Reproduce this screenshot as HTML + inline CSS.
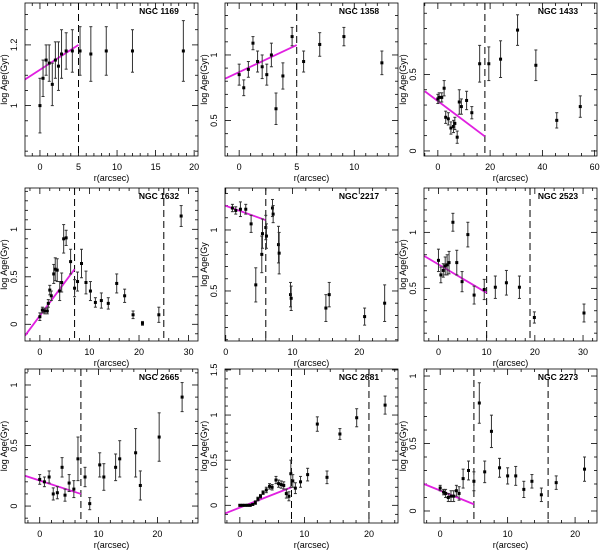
<!DOCTYPE html>
<html><head><meta charset="utf-8"><style>
body{margin:0;background:#fff;}
svg text{font-family:"Liberation Sans",sans-serif;fill:#000;}
</style></head><body>
<svg id="fig" width="600" height="550" viewBox="0 0 600 550" xmlns="http://www.w3.org/2000/svg"></svg>
<script>
// ---- data per panel ----
const names = ["NGC 1169","NGC 1358","NGC 1433","NGC 1632","NGC 2217","NGC 2523","NGC 2665","NGC 2681","NGC 2273"];
const r1169 = [0,0.4,0.8,1.2,1.6,2.0,2.4,2.8,3.4,4.2,5.2,6.6,8.6,12,18.6];
const a1169 = [1.0,1.09,1.15,1.14,1.07,1.15,1.13,1.17,1.18,1.18,1.18,1.17,1.18,1.18,1.18];
const e1169 = [0.09,0.06,0.05,0.06,0.07,0.06,0.08,0.08,0.06,0.07,0.08,0.09,0.08,0.07,0.1];
const r1358 = [0,0.4,0.8,1.2,1.6,2.0,2.4,2.8,3.2,3.8,4.6,5.6,7.0,9.1,12.4];
const a1358 = [0.85,0.75,0.89,1.09,0.95,0.91,0.85,1.0,0.59,0.84,1.14,0.95,1.08,1.14,0.94];
const e1358 = [0.08,0.06,0.06,0.05,0.08,0.09,0.08,0.09,0.12,0.1,0.07,0.08,0.09,0.07,0.09];
const r1433 = [0,0.5,1.5,2.4,3,4,5,6,6.5,7.4,8.2,9,11,13,16,19.5,24,30.5,37.5,45.5,54.5];
const a1433 = [0.34,0.35,0.35,0.41,0.22,0.21,0.15,0.16,0.18,0.09,0.32,0.29,0.33,0.25,0.57,0.57,0.6,0.79,0.56,0.2,0.29];
const e1433 = [0.03,0.03,0.03,0.05,0.04,0.04,0.04,0.04,0.04,0.04,0.08,0.05,0.06,0.04,0.12,0.11,0.12,0.1,0.1,0.05,0.07];
const r1632 = [0,0.5,1,1.5,1.7,2,2.3,2.8,3.1,3.5,4,4.4,4.8,5.3,6.2,7,7.6,8.4,9.3,10.2,11.2,12.4,13.8,15.5,17.1,18.8,20.7,24,28.5];
const a1632 = [0.08,0.15,0.14,0.14,0.22,0.36,0.3,0.53,0.58,0.57,0.35,0.44,0.9,0.91,0.66,0.38,0.45,0.64,0.44,0.35,0.23,0.25,0.22,0.43,0.3,0.1,0.01,0.1,1.14];
const e1632 = [0.04,0.03,0.03,0.03,0.04,0.05,0.05,0.1,0.12,0.12,0.1,0.1,0.15,0.08,0.13,0.09,0.1,0.15,0.12,0.1,0.05,0.08,0.06,0.1,0.07,0.04,0.02,0.08,0.11];
const r2217 = [1,1.5,2.2,3,3.8,4.5,5.4,5.5,6,6.1,7,7.1,7.9,8,9.7,9.8,15,15.5,20.8,23.8];
const a2217 = [1.18,1.16,1.17,1.17,1.05,0.55,0.8,0.97,1.02,0.95,1.18,1.13,0.88,0.81,0.47,0.44,0.36,0.47,0.29,0.4];
const e2217 = [0.03,0.03,0.06,0.04,0.07,0.14,0.15,0.12,0.1,0.1,0.07,0.07,0.15,0.17,0.1,0.1,0.11,0.1,0.07,0.15];
const r2523 = [0,0.5,1,1.4,1.8,2.2,3,3.8,4.9,6.1,7.4,9.5,11.8,14.1,16.8,19.9,30.2];
const a2523 = [0.75,0.62,0.66,0.70,0.71,0.73,1.09,0.73,0.56,0.98,0.44,0.49,0.51,0.55,0.51,0.24,0.28];
const e2523 = [0.1,0.07,0.06,0.08,0.09,0.1,0.08,0.11,0.09,0.11,0.08,0.09,0.1,0.11,0.1,0.05,0.08];
const r2665 = [0,0.8,1.6,2.3,3,3.8,4.3,5,5.8,6.5,7.7,8.5,10.2,10.9,12.9,13.6,16.3,17.1,20.3,24.2];
const a2665 = [0.22,0.2,0.24,0.1,0.11,0.32,0.09,0.19,0.14,0.39,0.24,0.02,0.34,0.24,0.32,0.39,0.44,0.17,0.57,0.9];
const e2665 = [0.04,0.04,0.05,0.05,0.05,0.08,0.05,0.07,0.07,0.18,0.08,0.05,0.1,0.11,0.11,0.15,0.2,0.12,0.2,0.12];
const r2681 = [0,0.4,0.8,1.2,1.6,2,2.4,2.8,3.2,3.6,4.1,4.6,5,5.6,6,6.4,6.8,7.2,7.6,7.9,8.2,8.6,9.4,10.5,12,13.5,15.5,18.1,22.5];
const a2681 = [0,0,0,0,0,0.01,0.03,0.07,0.1,0.14,0.17,0.21,0.2,0.28,0.24,0.23,0.22,0.13,0.1,0.35,0.27,0.19,0.26,0.34,0.9,0.31,0.79,0.97,1.11];
const e2681 = [0.01,0.01,0.01,0.01,0.01,0.01,0.02,0.02,0.02,0.02,0.03,0.03,0.03,0.04,0.04,0.04,0.04,0.05,0.05,0.15,0.07,0.06,0.06,0.07,0.08,0.07,0.06,0.1,0.1];
const r2273 = [0,0.5,0.8,1.2,1.6,2,2.4,2.8,3.4,4.2,5,5.8,6.6,7.6,8.8,10,11.2,12.4,13.6,15,17.2,21.4];
const a2273 = [0.17,0.14,0.13,0.1,0.11,0.11,0.15,0.13,0.24,0.3,0.22,0.8,0.29,0.59,0.32,0.26,0.26,0.16,0.22,0.12,0.21,0.31];
const e2273 = [0.02,0.02,0.03,0.03,0.04,0.04,0.04,0.05,0.07,0.07,0.07,0.15,0.08,0.12,0.07,0.06,0.07,0.06,0.05,0.05,0.05,0.09];
const fits = [[-2,1.085,5,1.2],[-1.2,0.82,5,1.075],[-5,0.39,18,0.095],[-3,-0.12,7,0.58],[-0.1,1.2,6,1.08],[-3,0.79,10,0.46],[-2.5,0.25,7,0.1],[-2.3,-0.09,8,0.2],[-2.4,0.2,5,0.05]];
const dashes = [[5],[5],[18],[7,25],[6],[10,19],[7],[8,20],[5,16]];
const xTicks = [[0,5,10,15,20],[0,5,10],[0,20,40,60],[0,10,20,30],[0,10,20],[0,10,20,30],[0,10,20],[0,10,20],[0,10,20]];
const yTicks = [[1,1.2],[0.5,1],[0,0.5],[0,0.5,1],[0.5,1],[0.5,1],[0,0.5,1],[0,0.5,1,1.5],[0,0.5,1]];
const xMinor = [1,1,5,2,2,2,2,2,2];
const yMinor = [0.05,0.1,0.1,0.1,0.1,0.1,0.1,0.1,0.1];
const xDom = [[-1.94,20.5],[-1.23,13.8],[-5.3,60.9],[-3,31.9],[-0.11,25.8],[-3,32.9],[-2.5,26.9],[-2.3,24.5],[-2.4,23.25]];
const yDom = [[0.834,1.338],[0.23,1.396],[-0.033,0.967],[-0.176,1.435],[0.09,1.344],[0.03,1.396],[-0.14,1.132],[-0.196,1.51],[-0.089,1.052]];
const yTitles = ["log Age(Gyr)","log Age(Gyr)","log Age(Gyr)","log Age(Gyr)","log Age(Gy","log Age(Gyr)","log Age(Gyr)","log Age(Gyr)","log Age(Gyr)"];
const rs=[r1169,r1358,r1433,r1632,r2217,r2523,r2665,r2681,r2273];
const as=[a1169,a1358,a1433,a1632,a2217,a2523,a2665,a2681,a2273];
const es=[e1169,e1358,e1433,e1632,e2217,e2523,e2665,e2681,e2273];

const NS="http://www.w3.org/2000/svg";
const fig=document.getElementById('fig');
function mk(tag,attrs,parent){const e=document.createElementNS(NS,tag);for(const k in attrs)e.setAttribute(k,attrs[k]);parent.appendChild(e);return e;}
const lefts=[25,225,424], tops=[3,188,369], bots=[156,341,523], W=173;
for(let p=0;p<9;p++){
  const L=lefts[p%3], T=tops[Math.floor(p/3)], B=bots[Math.floor(p/3)], R=L+W;
  const g=mk('g',{},fig);
  
  
  const X=v=>L+(v-xDom[p][0])/(xDom[p][1]-xDom[p][0])*W;
  const Y=v=>B-(v-yDom[p][0])/(yDom[p][1]-yDom[p][0])*(B-T);
  const cp='cp'+p;
  const cl=mk('clipPath',{id:cp},g); mk('rect',{x:L,y:T,width:W,height:B-T},cl);
  const tk=mk('g',{stroke:'#000','stroke-width':0.8},g);
  
  
  const xs=Math.ceil(xDom[p][0]/xMinor[p]);
  for(let i=xs;i*xMinor[p]<=xDom[p][1];i++){const v=i*xMinor[p];const maj=xTicks[p].some(t=>Math.abs(t-v)<1e-6);const len=maj?6:3;const x=X(v);
    mk('line',{x1:x,x2:x,y1:B,y2:B-len},tk);mk('line',{x1:x,x2:x,y1:T,y2:T+len},tk);}
  const ys=Math.ceil(yDom[p][0]/yMinor[p]-1e-6);
  for(let i=ys;i*yMinor[p]<=yDom[p][1]+1e-9;i++){const v=i*yMinor[p];const maj=yTicks[p].some(t=>Math.abs(t-v)<1e-6);const len=maj?6:3;const y=Y(v);
    mk('line',{x1:L,x2:L+len,y1:y,y2:y},tk);mk('line',{x1:R,x2:R-len,y1:y,y2:y},tk);}
  xTicks[p].forEach(v=>{const t=mk('text',{x:X(v),y:B+14,'font-size':9,'text-anchor':'middle'},g);t.textContent=v;
    
    });
  yTicks[p].forEach(v=>{const y=Y(v);const t=mk('text',{x:L-8,y:y,'font-size':9,'text-anchor':'middle',transform:`rotate(-90 ${L-8} ${y})`},g);t.textContent=v;
    
    });
  const xt=mk('text',{x:L+W/2,y:B+25,'font-size':9,'text-anchor':'middle'},g);xt.textContent='r(arcsec)';
  
  
  const yc=(T+B)/2;
  const yt=mk('text',{x:L-18,y:yc,'font-size':9,'text-anchor':'middle',transform:`rotate(-90 ${L-18} ${yc})`},g);yt.textContent=yTitles[p];
  
  
  dashes[p].forEach(v=>{const d=mk('line',{x1:X(v),x2:X(v),y1:T,y2:B,stroke:'#000','stroke-width':1,'stroke-dasharray':'7,4'},g);
    
    });
  const f=fits[p];
  const fl=mk('line',{x1:X(f[0]),y1:Y(f[1]),x2:X(f[2]),y2:Y(f[3]),stroke:'#e020e0','stroke-width':1.8,'clip-path':`url(#${cp})`},g);
  
  
  for(let i=0;i<rs[p].length;i++){
    const x=X(rs[p][i]), y=Y(as[p][i]), e=es[p][i];
    const pg=mk('g',{stroke:'#333','stroke-width':1,'clip-path':`url(#${cp})`},g);
    
    
    mk('line',{x1:x,x2:x,y1:Y(as[p][i]-e),y2:Y(as[p][i]+e)},pg);
    mk('line',{x1:x-1.5,x2:x+1.5,y1:Y(as[p][i]-e),y2:Y(as[p][i]-e)},pg);
    mk('line',{x1:x-1.5,x2:x+1.5,y1:Y(as[p][i]+e),y2:Y(as[p][i]+e)},pg);
    mk('rect',{x:x-1.5,y:y-1.5,width:3,height:3,fill:'#000',stroke:'none'},pg);
  }
  const fr=mk('rect',{x:L,y:T,width:W,height:B-T,fill:'none',stroke:'#000','stroke-width':0.8},g);
  
  
  const tt=mk('text',{x:L+134,y:T+11,'font-size':8.5,'font-weight':'bold','text-anchor':'middle'},g);tt.textContent=names[p];
  
  
}
</script>
</body></html>
